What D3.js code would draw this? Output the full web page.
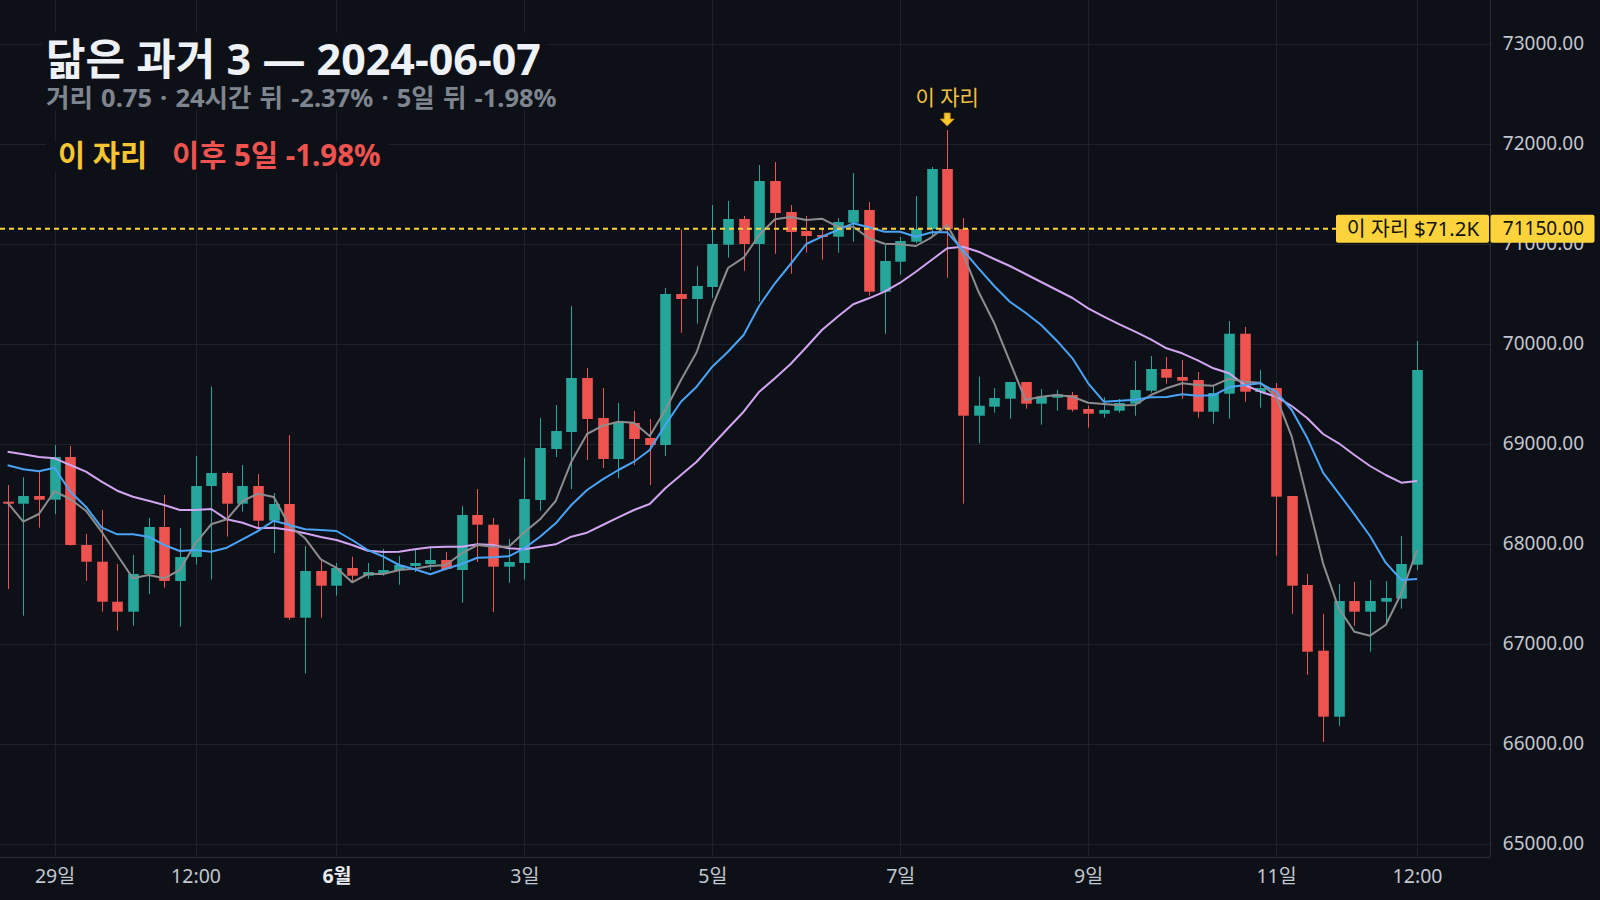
<!DOCTYPE html>
<html>
<head>
<meta charset="utf-8">
<script src="https://cdn.jsdelivr.net/npm/d3@7"></script>
<style>
  body { margin: 0; background: #0d1017; }
  svg { display: block; }
  text { font-family: 'Noto Sans', 'Noto Sans CJK KR', sans-serif; }
</style>
</head>
<body>
<div id="chart"></div>
<script>
// 4h candles, starting 2024-05-28 12:00
const opens = [68421,68401,68478,68441,68868,67988,67821,67421,67321,67698,
  68168,67628,67868,68578,68708,68401,68578,68231,68398,67261,
  67728,67581,67758,67681,67708,67738,67778,67798,67838,67738,
  68288,68191,67771,67808,68438,68948,69118,69658,69258,68848,
  69208,69058,68988,70498,70448,70568,70991,71248,70998,71628,
  71318,71128,71088,71071,71211,71338,70521,70821,71021,71148,
  71748,71148,69281,69371,69451,69618,69401,69461,69488,69348,
  69301,69331,69401,69531,69748,69668,69638,69321,69501,70101,
  69518,69558,68478,67588,66931,66271,67428,67321,67421,67451,
  67791];
const highs = [68588,68665,68721,68988,68978,68098,68338,67798,67888,68258,
  68488,68158,68878,69571,68721,68788,68698,68508,69088,67978,
  67828,67808,67871,67808,67948,67878,67938,67958,67918,68378,
  68548,68258,68048,68858,69258,69388,70378,69758,69558,69408,
  69328,69248,70558,71145,70778,71388,71428,71278,71788,71818,
  71388,71278,71148,71258,71708,71418,70988,71068,71478,71768,
  72138,71258,69671,69558,69618,69618,69548,69538,69518,69385,
  69465,69448,69828,69878,69868,69838,69718,69578,70228,70168,
  69738,69608,68478,67698,67301,67598,67618,67638,67628,68078,
  70028];
const lows = [67548,67281,68161,68298,67981,67628,67321,67131,67181,67498,
  67561,67171,67791,67641,68071,68321,68158,67908,67238,66703,
  67261,67481,67621,67651,67681,67591,67718,67738,67738,67411,
  67818,67318,67611,67641,68331,68868,68548,68838,68758,68658,
  68788,68588,68878,70111,70201,70458,70861,70731,70421,70901,
  70701,70911,70841,70911,71021,70481,70101,70691,71005,71071,
  70661,68401,69005,69311,69251,69351,69191,69331,69321,69161,
  69261,69311,69281,69511,69601,69451,69261,69201,69251,69421,
  69361,67881,67301,66691,66018,66181,67181,66921,67195,67351,
  67738];
const closes = [68401,68478,68441,68868,67988,67821,67421,67321,67698,68168,
  67628,67868,68578,68708,68401,68578,68231,68398,67261,67728,
  67581,67758,67681,67718,67738,67788,67808,67838,67748,68288,
  68191,67771,67818,68448,68958,69128,69658,69248,68848,69208,
  69048,68988,70498,70448,70578,70998,71248,70998,71628,71308,
  71118,71078,71068,71218,71338,70521,70828,71028,71148,71748,
  71148,69281,69381,69458,69618,69401,69471,69495,69341,69301,
  69338,69408,69538,69748,69661,69631,69321,69508,70101,69521,
  69558,68471,67581,66921,66271,67428,67321,67428,67458,67798,
  69738];

// moving averages
const maGray = [68411,68221,68298,68525,68448,68331,68121,67888,67655,67688,
  67655,67738,68005,68195,68245,68428,68501,68468,68178,68055,
  67845,67760,67615,67698,67698,67738,67751,67778,67788,67905,
  67988,67971,67971,68115,68245,68428,68821,69098,69181,69221,
  69211,69078,69338,69638,69915,70371,70758,70861,71088,71245,
  71268,71238,71251,71171,71171,71055,71001,70995,70978,71065,
  71185,70905,70520,70208,69821,69438,69471,69488,69471,69411,
  69398,69385,69388,69488,69555,69605,69588,69581,69651,69621,
  69611,69471,69071,68438,67805,67355,67121,67081,67188,67505,
  67938];
const maBlue = [68785,68745,68725,68761,68521,68371,68165,68095,68095,68071,
  67988,67928,67938,67921,67961,68045,68128,68231,68188,68145,
  68138,68128,68038,67938,67871,67788,67745,67695,67751,67798,
  67861,67865,67875,67955,68071,68205,68388,68538,68645,68738,
  68821,68938,69188,69421,69571,69771,69921,70088,70381,70605,
  70798,70998,71071,71138,71205,71165,71121,71121,71071,71115,
  71115,70938,70755,70578,70421,70311,70188,70031,69855,69605,
  69421,69431,69441,69465,69468,69495,69481,69485,69565,69588,
  69605,69521,69338,69055,68711,68505,68295,68078,67811,67638,
  67648];
const maPurple = [68921,68895,68868,68855,68788,68721,68621,68531,68471,68431,
  68388,68338,68338,68348,68245,68211,68155,68161,68138,68105,
  68068,68038,67988,67931,67918,67921,67945,67965,67971,67971,
  67995,67988,67955,67945,67971,67995,68071,68111,68188,68265,
  68338,68398,68555,68688,68821,68988,69155,69321,69521,69655,
  69798,69965,70138,70271,70395,70455,70521,70611,70721,70838,
  70955,70971,70921,70848,70778,70698,70618,70538,70458,70355,
  70271,70195,70121,70045,69955,69905,69835,69755,69705,69588,
  69521,69471,69378,69255,69098,69005,68888,68778,68688,68611,
  68628];

const xTickDates = ['2024-05-29T00:00Z','2024-05-30T12:00Z','2024-06-01T00:00Z','2024-06-03T00:00Z',
  '2024-06-05T00:00Z','2024-06-07T00:00Z','2024-06-09T00:00Z','2024-06-11T00:00Z','2024-06-12T12:00Z'];
const xTickLabels = ['29일','12:00','6월','3일','5일','7일','9일','11일','12:00'];
const priceTicks = [65000,66000,67000,68000,69000,70000,71000,72000,73000];

const markIndex = 60;
const markPrice = 71150;

const width = 1600;
const height = 900;
const plotRight = 1490;
const plotBottom = 857;
const bg = '#0d1017';
const gridColor = '#1d2129';
const up = '#26a69a';
const down = '#ef5350';
const gold = '#fdd33c';

const start = Date.UTC(2024, 4, 28, 12);
const step = 4 * 3600 * 1000;
const times = opens.map((d, i) => new Date(start + i * step));

const x = d3
  .scaleUtc()
  .domain([new Date(start - 0.485 * step), new Date(start + 94.66 * step)])
  .range([0, plotRight]);
const y = d3.scaleLinear().domain([64868, 73438]).range([plotBottom, 0]);

const svg = d3
  .select('#chart')
  .append('svg')
  .attr('width', width)
  .attr('height', height)
  .attr('viewBox', [0, 0, width, height]);

svg.append('rect').attr('width', width).attr('height', height).attr('fill', bg);

// grid
const grid = svg.append('g');
grid
  .selectAll('line.h')
  .data(priceTicks)
  .enter()
  .append('line')
  .attr('x1', 0)
  .attr('x2', plotRight)
  .attr('y1', (d) => Math.round(y(d)) + 0.5)
  .attr('y2', (d) => Math.round(y(d)) + 0.5)
  .attr('stroke', gridColor);
grid
  .selectAll('line.v')
  .data(xTickDates)
  .enter()
  .append('line')
  .attr('x1', (d) => Math.round(x(new Date(d))) + 0.5)
  .attr('x2', (d) => Math.round(x(new Date(d))) + 0.5)
  .attr('y1', 0)
  .attr('y2', plotBottom)
  .attr('stroke', gridColor);

// boxes behind title / legend hide the grid
svg.append('rect').attr('x', 42).attr('y', 33).attr('width', 505).attr('height', 77).attr('fill', bg);
svg.append('rect').attr('x', 46).attr('y', 142).attr('width', 342).attr('height', 30).attr('fill', bg);

// candles
const candleW = 10.6;
const candles = svg
  .append('g')
  .selectAll('g')
  .data(opens)
  .enter()
  .append('g')
  .attr('fill', (d, i) => (closes[i] >= opens[i] ? up : down))
  .attr('stroke', (d, i) => (closes[i] >= opens[i] ? up : down));

candles
  .append('line')
  .attr('x1', (d, i) => Math.round(x(times[i])) + 0.5)
  .attr('x2', (d, i) => Math.round(x(times[i])) + 0.5)
  .attr('y1', (d, i) => y(highs[i]))
  .attr('y2', (d, i) => y(lows[i]))
  .attr('stroke-width', 1);

candles
  .append('rect')
  .attr('stroke', 'none')
  .attr('x', (d, i) => Math.round(x(times[i])) + 0.5 - candleW / 2)
  .attr('y', (d, i) => y(Math.max(opens[i], closes[i])))
  .attr('width', candleW)
  .attr('height', (d, i) => Math.max(1.5, y(Math.min(opens[i], closes[i])) - y(Math.max(opens[i], closes[i]))));

// moving averages
const maLine = d3
  .line()
  .x((d, i) => x(times[i]))
  .y((d) => y(d));

[
  [maPurple, '#d3a4f2'],
  [maGray, '#8d8d8f'],
  [maBlue, '#4ba3f7'],
].forEach(([data, color]) => {
  svg
    .append('path')
    .datum(data)
    .attr('d', maLine)
    .attr('fill', 'none')
    .attr('stroke', color)
    .attr('stroke-width', 2)
    .attr('stroke-linejoin', 'round');
});

// dashed level of the matched spot
const yMark = y(markPrice);
svg
  .append('line')
  .attr('x1', 0)
  .attr('x2', 1336)
  .attr('y1', yMark)
  .attr('y2', yMark)
  .attr('stroke', gold)
  .attr('stroke-width', 2)
  .attr('stroke-dasharray', '5,4');

// axis borders
svg.append('line').attr('x1', plotRight + 0.5).attr('x2', plotRight + 0.5).attr('y1', 0).attr('y2', plotBottom)
  .attr('stroke', '#2a2e37');
svg.append('line').attr('x1', 0).attr('x2', plotRight).attr('y1', plotBottom + 0.5).attr('y2', plotBottom + 0.5)
  .attr('stroke', '#2a2e37');

const xAxis = svg
  .append('g')
  .attr('transform', `translate(0, ${plotBottom})`)
  .call(
    d3
      .axisBottom(x)
      .tickValues(xTickDates.map((d) => new Date(d)))
      .tickFormat((d, i) => xTickLabels[i])
      .tickSize(0)
      .tickPadding(12)
  );
xAxis.select('.domain').remove();
xAxis
  .selectAll('text')
  .attr('font-size', 19.5)
  .attr('fill', (d, i) => (xTickLabels[i] === '6월' ? '#e8ebf0' : '#c3c7cf'))
  .attr('font-weight', (d, i) => (xTickLabels[i] === '6월' ? 'bold' : 'normal'));

const yAxis = svg
  .append('g')
  .attr('transform', `translate(${plotRight}, 0)`)
  .call(d3.axisRight(y).tickValues(priceTicks).tickFormat(d3.format('.2f')).tickSize(0));
yAxis.select('.domain').remove();
yAxis
  .selectAll('text')
  .attr('x', 94)
  .attr('text-anchor', 'end')
  .attr('font-size', 19)
  .attr('fill', '#c3c7cf');

// level labels on the right
svg.append('rect').attr('x', 1336).attr('y', yMark - 14).attr('width', 153).attr('height', 28).attr('rx', 2)
  .attr('fill', gold);
svg.append('text').attr('x', 1413).attr('y', yMark).attr('dy', '0.35em').attr('text-anchor', 'middle')
  .attr('font-size', 20.5).attr('fill', '#111').text('이 자리 $71.2K');
svg.append('rect').attr('x', 1490.5).attr('y', yMark - 14).attr('width', 104).attr('height', 28).attr('rx', 2)
  .attr('fill', gold);
svg.append('text').attr('x', 1584).attr('y', yMark).attr('dy', '0.35em').attr('text-anchor', 'end')
  .attr('font-size', 19).attr('fill', '#111').text(d3.format('.2f')(markPrice));

// marker above the matched candle
const xMark = x(times[markIndex]);
svg.append('text').attr('x', xMark).attr('y', 98).attr('dy', '0.35em').attr('text-anchor', 'middle')
  .attr('font-size', 21).attr('fill', '#f2c23e').text('이 자리');
svg
  .append('path')
  .attr('d', `M${xMark - 3},113 h6 v6 h4 l-7,7 l-7,-7 h4 z`)
  .attr('fill', '#f7c72c')
  .attr('stroke', '#c9931a')
  .attr('stroke-width', 0.8);

// title
svg.append('text').attr('x', 46).attr('y', 75).attr('font-size', 43).attr('font-weight', 'bold')
  .attr('fill', '#eef1f5').text('닮은 과거 3 — 2024-06-07');
svg.append('text').attr('x', 46).attr('y', 107).attr('font-size', 25.5).attr('font-weight', 'bold')
  .attr('fill', '#7f858f').attr('word-spacing', 1.5).text('거리 0.75 · 24시간 뒤 -2.37% · 5일 뒤 -1.98%');

const legend = svg.append('text').attr('x', 58).attr('y', 166).attr('font-size', 29.5).attr('font-weight', 'bold');
legend.append('tspan').attr('fill', '#f7c531').text('이 자리');
legend.append('tspan').attr('dx', 25).attr('fill', down).text('이후 5일 -1.98%');
</script>
</body>
</html>
